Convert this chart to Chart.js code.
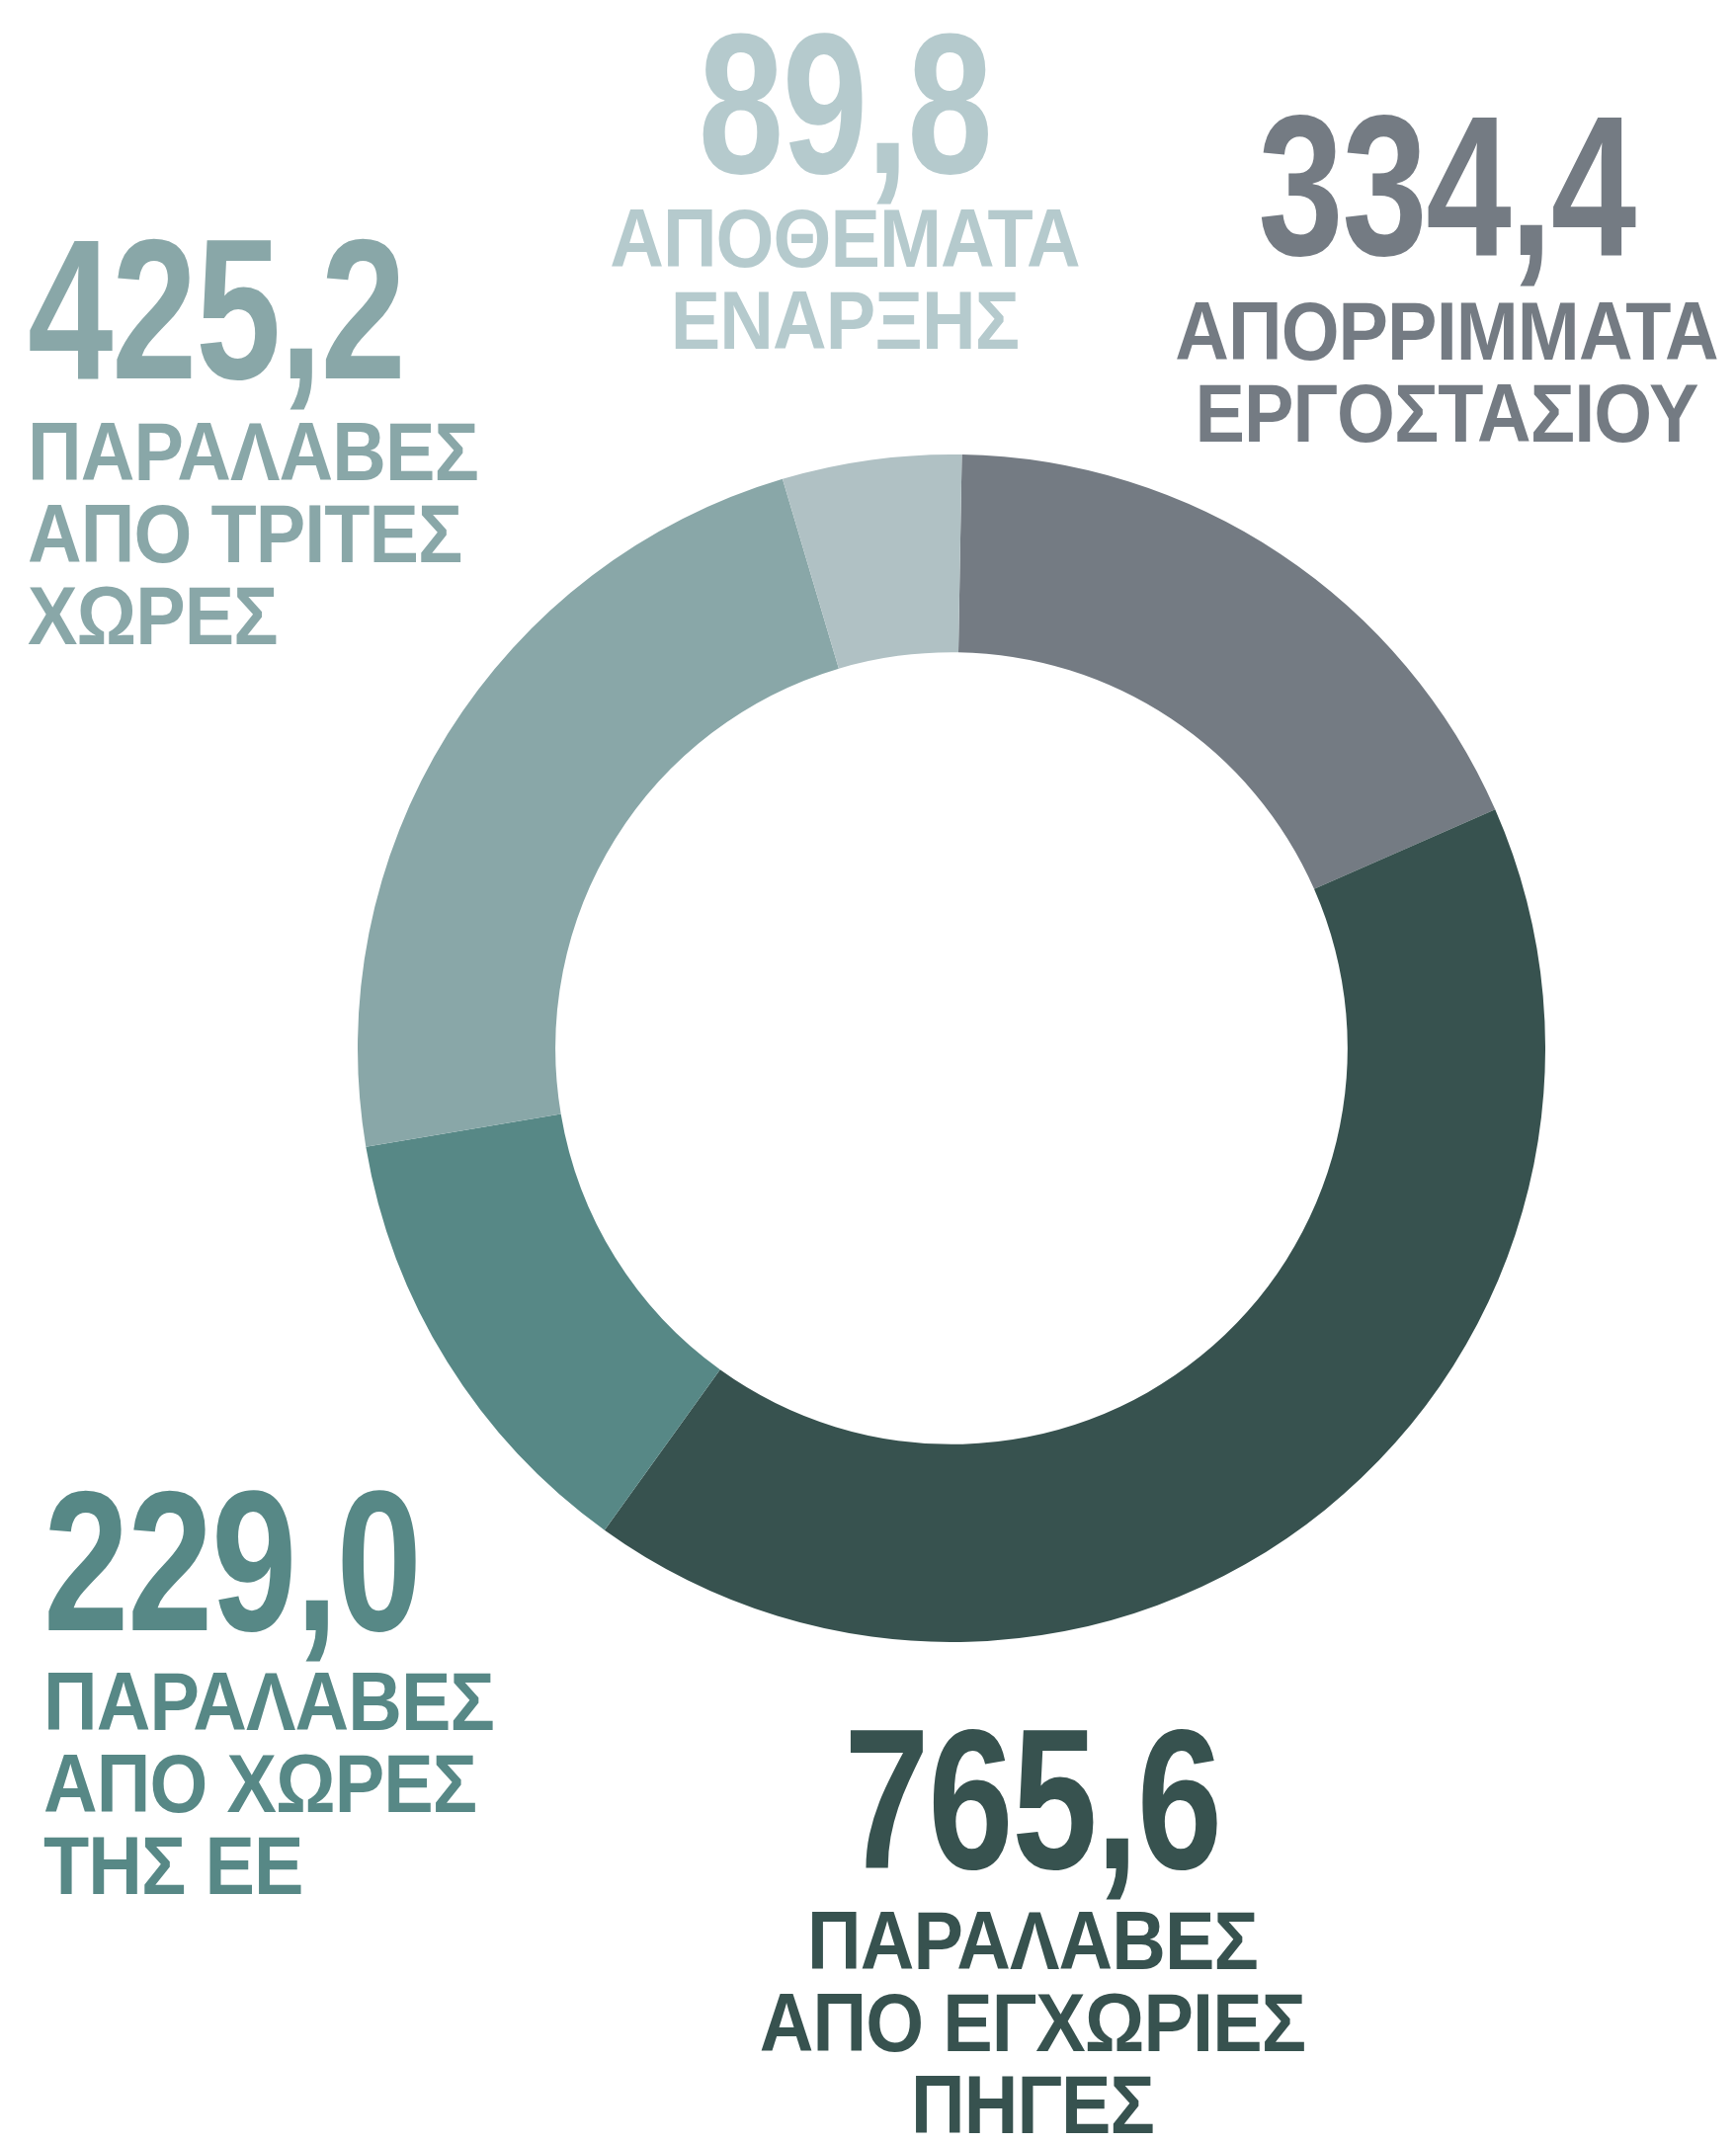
<!DOCTYPE html>
<html>
<head>
<meta charset="utf-8">
<script src="https://cdn.jsdelivr.net/npm/chart.js@4.4.1/dist/chart.umd.min.js"></script>
<style>
    body { margin: 0; background: #fff; }
    #page { position: relative; width: 1757px; height: 2169px; background: #fff; overflow: hidden; }
    #chart-box { position: absolute; left: 362px; top: 460px; width: 1202px; height: 1202px; }
    .label-value, .label-text {
        position: absolute;
        white-space: nowrap;
        font-family: "Liberation Sans", Arial, sans-serif;
        font-weight: bold;
    }
    .label-value {
        font-size: 202px;
        line-height: 202px;
        letter-spacing: -2px;
        transform: scaleX(0.77);
    }
    .label-text {
        font-size: 84px;
        line-height: 83px;
        letter-spacing: -1px;
        transform: scaleX(0.9);
    }
</style>
</head>
<body>
<div id="page">
    <div id="chart-box"><canvas id="donut"></canvas></div>
</div>
<script>
// data, clockwise from the top
const categories = ['ΑΠΟΡΡΙΜΜΑΤΑ ΕΡΓΟΣΤΑΣΙΟΥ', 'ΠΑΡΑΛΑΒΕΣ ΑΠΟ ΕΓΧΩΡΙΕΣ ΠΗΓΕΣ', 'ΠΑΡΑΛΑΒΕΣ ΑΠΟ ΧΩΡΕΣ ΤΗΣ ΕΕ', 'ΠΑΡΑΛΑΒΕΣ ΑΠΟ ΤΡΙΤΕΣ ΧΩΡΕΣ', 'ΑΠΟΘΕΜΑΤΑ ΕΝΑΡΞΗΣ'];
const values = [334.4, 765.6, 229.0, 425.2, 89.8];
const labelLines = [
    ['ΑΠΟΡΡΙΜΜΑΤΑ', 'ΕΡΓΟΣΤΑΣΙΟΥ'],
    ['ΠΑΡΑΛΑΒΕΣ', 'ΑΠΟ ΕΓΧΩΡΙΕΣ', 'ΠΗΓΕΣ'],
    ['ΠΑΡΑΛΑΒΕΣ', 'ΑΠΟ ΧΩΡΕΣ', 'ΤΗΣ ΕΕ'],
    ['ΠΑΡΑΛΑΒΕΣ', 'ΑΠΟ ΤΡΙΤΕΣ', 'ΧΩΡΕΣ'],
    ['ΑΠΟΘΕΜΑΤΑ', 'ΕΝΑΡΞΗΣ']
];

const segmentColors = ['#747b83', '#37524f', '#578886', '#89a7a8', '#b0c1c4'];
const textColors = ['#747b83', '#37524f', '#578886', '#89a7a8', '#b5cacd'];

// where each label sits: anchor x, alignment, cap top of the number, cap top of the text
const labelLayout = [
    { x: 1464, align: 'center', valueTop: 113, textTop: 304 },
    { x: 1045, align: 'center', valueTop: 1746, textTop: 1933 },
    { x: 44, align: 'left', valueTop: 1505, textTop: 1691 },
    { x: 28, align: 'left', valueTop: 238, textTop: 426 },
    { x: 855, align: 'center', valueTop: 30, textTop: 210 }
];

function formatValue(v) {
    return v.toFixed(1).replace('.', ',');
}

function addLabel(page, idx) {
    const layout = labelLayout[idx];

    const valueEl = document.createElement('div');
    valueEl.className = 'label-value';
    valueEl.textContent = formatValue(values[idx]);
    valueEl.style.top = (layout.valueTop - 26) + 'px';

    const textEl = document.createElement('div');
    textEl.className = 'label-text';
    textEl.innerHTML = labelLines[idx].join('<br>');
    textEl.style.top = (layout.textTop - 10) + 'px';

    [valueEl, textEl].forEach(el => {
        el.style.color = textColors[idx];
        el.style.textAlign = layout.align;
        if (layout.align === 'center') {
            el.style.left = (layout.x - 500) + 'px';
            el.style.width = '1000px';
            el.style.transformOrigin = 'center top';
        } else {
            el.style.left = layout.x + 'px';
            el.style.transformOrigin = 'left top';
        }
        page.appendChild(el);
    });
}

const page = document.getElementById('page');
values.forEach((v, idx) => addLabel(page, idx));

new Chart(document.getElementById('donut'), {
    type: 'doughnut',
    data: {
        labels: categories,
        datasets: [{
            data: values,
            backgroundColor: segmentColors,
            borderWidth: 0,
            hoverOffset: 0
        }]
    },
    options: {
        responsive: true,
        maintainAspectRatio: false,
        animation: false,
        cutout: '66.7%',
        rotation: 1,
        layout: { padding: 0 },
        plugins: {
            legend: { display: false },
            tooltip: { enabled: false }
        }
    }
});
</script>
</body>
</html>
